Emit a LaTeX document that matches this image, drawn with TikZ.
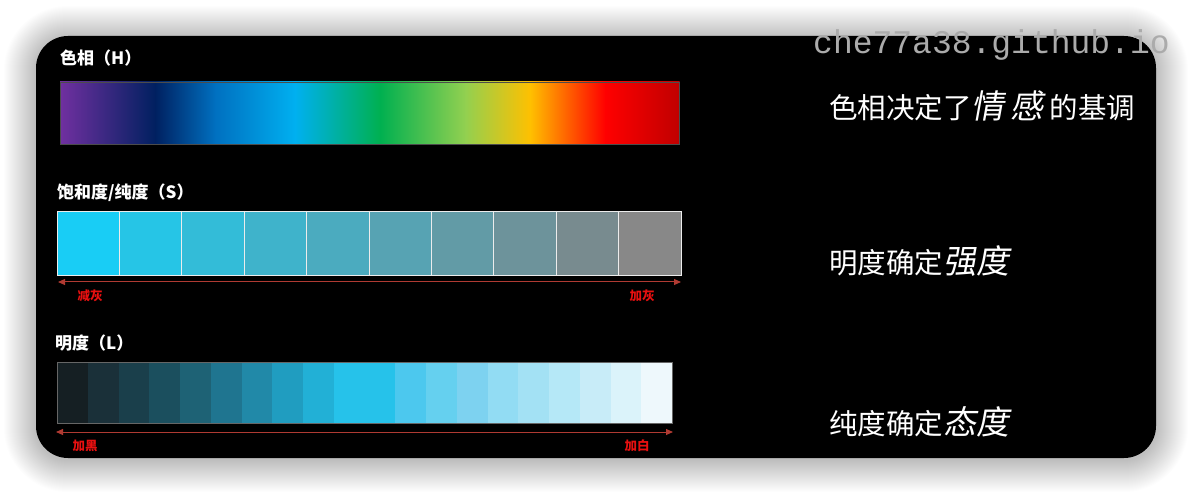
\documentclass[tikz,border=0pt]{standalone}
\usepackage{fontspec}
\usetikzlibrary{arrows.meta}
\newfontfamily\cjk{Noto Sans CJK SC}
\newfontfamily\cjkhand[FakeSlant=0.18]{Noto Sans CJK SC}
\newfontfamily\wmfont{Liberation Mono}
% hue stops
\definecolor{hA}{HTML}{7030A0}
\definecolor{hB}{HTML}{002060}
\definecolor{hC}{HTML}{0070C0}
\definecolor{hD}{HTML}{00B0F0}
\definecolor{hE}{HTML}{00B050}
\definecolor{hF}{HTML}{92D050}
\definecolor{hG}{HTML}{FFC000}
\definecolor{hH}{HTML}{FF0000}
\definecolor{hI}{HTML}{C00000}
% saturation
\definecolor{s1}{HTML}{19CDF5}
\definecolor{s2}{HTML}{26C5E6}
\definecolor{s3}{HTML}{33BCD8}
\definecolor{s4}{HTML}{3FB3CB}
\definecolor{s5}{HTML}{4BABBF}
\definecolor{s6}{HTML}{57A3B3}
\definecolor{s7}{HTML}{629BA6}
\definecolor{s8}{HTML}{6D939B}
\definecolor{s9}{HTML}{788B8F}
\definecolor{s10}{HTML}{888888}
% lightness
\definecolor{l1}{HTML}{151F23}
\definecolor{l2}{HTML}{1A3039}
\definecolor{l3}{HTML}{1A3F4B}
\definecolor{l4}{HTML}{1B4F5E}
\definecolor{l5}{HTML}{1E6275}
\definecolor{l6}{HTML}{1F7590}
\definecolor{l7}{HTML}{2189A8}
\definecolor{l8}{HTML}{209DC0}
\definecolor{l9}{HTML}{22B0D6}
\definecolor{l10}{HTML}{26C2EA}
\definecolor{l11}{HTML}{26C2EA}
\definecolor{l12}{HTML}{4CC8EE}
\definecolor{l13}{HTML}{65D0EF}
\definecolor{l14}{HTML}{7DD2F0}
\definecolor{l15}{HTML}{92DCF3}
\definecolor{l16}{HTML}{A3E1F4}
\definecolor{l17}{HTML}{B5E8F7}
\definecolor{l18}{HTML}{C8ECF8}
\definecolor{l19}{HTML}{DBF3FA}
\definecolor{l20}{HTML}{EEF8FC}
\definecolor{arrowred}{HTML}{B03A32}
\definecolor{labred}{HTML}{E81010}
\definecolor{wmgray}{HTML}{ABABAB}
\newcommand\handtext[1]{{\cjkhand\fontsize{33}{36}\selectfont #1}}
\tikzset{
  title/.style={anchor=west,inner sep=0pt,text=white,font=\cjk\bfseries\fontsize{17}{20}\selectfont},
  redlab/.style={inner sep=0pt,text=labred,font=\cjk\bfseries\fontsize{12.5}{14}\selectfont},
  note/.style={anchor=base west,inner sep=0pt,text=white,font=\cjk\fontsize{28.5}{32}\selectfont},
  scale arrow/.style={draw=arrowred,line width=1pt,{Triangle[length=7pt,width=6pt]}-{Triangle[length=7pt,width=6pt]}},
}
\begin{document}
\begin{tikzpicture}[x=1pt,y=-1pt]
\useasboundingbox (0,0) rectangle (1192,494);
\fill[white] (0,0) rectangle (1192,494);
% soft shadow
\foreach \i in {1,...,32}{
  \pgfmathsetmacro\rr{32+\i}
  \fill[black,opacity=0.0075,rounded corners=\rr pt] (36-\i,38-\i) rectangle (1156+\i,460+\i);
}
% panel
\fill[black,rounded corners=32pt] (36,36) rectangle (1156,458);

% ---- Hue bar
\foreach \xa/\xb/\ca/\cb in {60/155/hA/hB,155/215/hB/hC,215/295/hC/hD,295/380/hD/hE,380/465/hE/hF,465/530/hF/hG,530/605/hG/hH,605/679/hH/hI}{
  \shade[left color=\ca,right color=\cb] (\xa,82) rectangle (\xb+0.5,144);
}
\node[draw=black!70!white,line width=0.8pt,inner sep=0pt,minimum width=619pt,minimum height=62pt,anchor=north west] (huebar) at (60,82) {};
\node[title] (tH) at (60,58) {色相（H）};

% ---- Saturation bar
\foreach \k in {1,...,10}{
  \fill[s\k] ({57+62.4*(\k-1)},211) rectangle ({57+62.4*\k},275);
}
\foreach \k in {1,...,9}{
  \draw[white!85!gray,line width=0.9pt] ({57+62.4*\k},211) -- ({57+62.4*\k},275);
}
\node[draw=white!85!gray,line width=1.4pt,inner sep=0pt,minimum width=624pt,minimum height=64pt,anchor=north west] (satbar) at (57,211) {};
\node[title] (tS) at (57,193) {饱和度/纯度（S）};
\coordinate (sL) at (58,282);
\coordinate (sR) at (681,282);
\draw[scale arrow] (sL) -- (sR);
\node[redlab] (jh) at (90,296) {减灰};
\node[redlab] (ah) at (642,296) {加灰};

% ---- Lightness bar
\foreach \k in {1,...,20}{
  \fill[l\k] ({57+30.75*(\k-1)},362) rectangle ({57+30.75*\k+0.3},423);
}
\node[draw=gray!80!black,line width=0.8pt,inner sep=0pt,minimum width=615pt,minimum height=61pt,anchor=north west] (litbar) at (57,362) {};
\node[title] (tL) at (55,343) {明度（L）};
\coordinate (lL) at (56,432);
\coordinate (lR) at (673,432);
\draw[scale arrow] (lL) -- (lR);
\node[redlab] (jb) at (85,446) {加黑};
\node[redlab] (jw) at (637,446) {加白};

% ---- Notes
\node[note] (n1) at (829,119) {色相决定了\handtext{情\hspace{6pt}感}\hspace{6pt}的基调};
\node[note] (n2) at (829,274) {明度确定\handtext{强度}};
\node[note] (n3) at (829,434) {纯度确定\handtext{态度}};

% ---- Watermark
\node[anchor=base west,inner sep=0pt,text=wmgray,font=\wmfont\fontsize{33}{36}\selectfont] (wm) at (813,54) {che77a38.github.io};
\end{tikzpicture}
\end{document}
